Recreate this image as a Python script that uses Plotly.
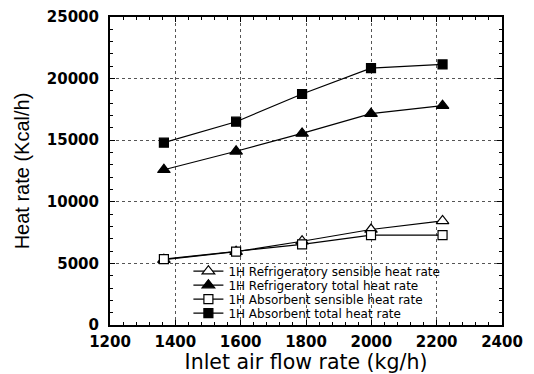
import plotly.graph_objects as go

flow = [1365, 1586, 1788, 1999, 2218]
refrig_sensible = [5300, 5950, 6800, 7750, 8450]
refrig_total = [12600, 14100, 15550, 17150, 17800]
absorb_sensible = [5350, 5950, 6550, 7300, 7300]
absorb_total = [14800, 16500, 18750, 20850, 21150]

names = [
    "1H Refrigeratory sensible heat rate",
    "1H Refrigeratory total heat rate",
    "1H Absorbent sensible heat rate",
    "1H Absorbent total heat rate",
]
series = [refrig_sensible, refrig_total, absorb_sensible, absorb_total]
symbols = ["triangle-up", "triangle-up", "square", "square"]
fills = ["white", "black", "white", "black"]
sizes = [11, 11, 9, 9]
# alternate legend boxes so entries can sit closer together than Plotly's minimum row height
legends = ["legend", "legend2", "legend", "legend2"]

fig = go.Figure()
for i, (name, ys, sym, fc, sz, lg) in enumerate(zip(names, series, symbols, fills, sizes, legends)):
    fig.add_trace(go.Scatter(
        x=flow, y=ys, name=name, mode="lines+markers",
        legend=lg, legendgroup=f"g{i}",
        line=dict(color="black", width=1.2),
        marker=dict(symbol=sym, size=sz, color=fc, line=dict(color="black", width=1.2)),
    ))

axis_common = dict(
    showline=True, linecolor="black", linewidth=2, mirror="ticks",
    ticks="inside", ticklen=5, tickcolor="black", tickwidth=1,
    showgrid=True, gridcolor="#555555", gridwidth=1, griddash="dot",
    zeroline=False,
    tickfont=dict(family="DejaVu Sans", size=15, color="black", weight="bold"),
)

fig.update_xaxes(
    range=[1200, 2400], dtick=200, tick0=1200, tickformat="d",
    minor=dict(ticks="inside", ticklen=3, dtick=40, tickcolor="black", showgrid=False),
    title=dict(text="Inlet air flow rate (kg/h)", font=dict(family="DejaVu Sans", size=20.5, color="black"), standoff=6),
    ticklabelstandoff=2,
    **axis_common,
)
fig.update_yaxes(
    range=[0, 25000], dtick=5000, tick0=0, tickformat="d",
    minor=dict(ticks="inside", ticklen=3, dtick=1000, tickcolor="black", showgrid=False),
    title=dict(text="Heat rate (Kcal/h)", font=dict(family="Liberation Sans", size=20, color="black"), standoff=12),
    ticklabelstandoff=6,
    **axis_common,
)

leg_common = dict(
    xanchor="left", yanchor="top",
    bgcolor="rgba(0,0,0,0)", borderwidth=0,
    font=dict(family="DejaVu Sans", size=12, color="black"),
    tracegroupgap=9,
)

fig.update_layout(
    width=534, height=374,
    margin=dict(l=110, r=32, t=17, b=49, autoexpand=False),
    plot_bgcolor="white", paper_bgcolor="white",
    legend=dict(x=0.2, y=0.222, **leg_common),
    legend2=dict(x=0.2, y=0.222 - 14 / 308, **leg_common),
)

fig.write_html("out.html")
